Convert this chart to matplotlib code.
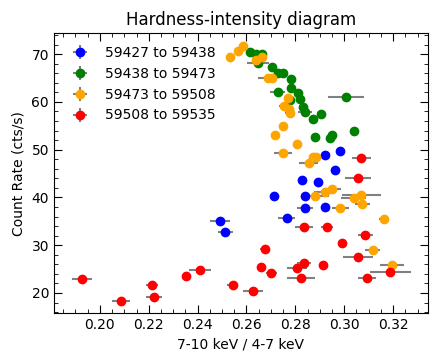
import matplotlib
matplotlib.use('Agg')
import matplotlib.pyplot as plt
from matplotlib.ticker import MultipleLocator

# MJD ranges for each group
labels = ['59427 to 59438', '59438 to 59473', '59473 to 59508', '59508 to 59535']
colors = ['blue', 'green', 'orange', 'red']

# hardness ratio (7-10 keV / 4-7 keV), count rate and x errors
blue_hr = [0.2493, 0.2514, 0.2921, 0.2984, 0.2964, 0.2829, 0.2892, 0.2712,
           0.2841, 0.2840, 0.2921, 0.2764]
blue_rate = [35.0, 32.7, 48.8, 49.8, 45.8, 43.6, 43.2, 40.3, 40.3, 37.7, 38.1, 35.8]
blue_err = [0.0041, 0.0029, 0.0012, 0.0012, 0.0012, 0.0012, 0.0012, 0.0012,
            0.0012, 0.0034, 0.0012, 0.0034]

green_hr = [0.2615, 0.2638, 0.2663, 0.2649, 0.2706, 0.2731, 0.2749, 0.2781,
            0.2783, 0.2727, 0.2810, 0.2817, 0.2779, 0.2830, 0.2839, 0.2871,
            0.2904, 0.2881, 0.2940, 0.2950, 0.3040, 0.3007]
green_rate = [70.4, 70.1, 70.1, 68.1, 67.4, 66.0, 66.0, 64.7,
              63.0, 62.0, 61.8, 60.7, 60.4, 58.9, 57.9, 56.4,
              57.4, 52.7, 52.5, 53.1, 53.9, 61.1]
green_err = [0.0015, 0.0015, 0.0015, 0.0045, 0.0015, 0.0015, 0.0015, 0.0015,
             0.0015, 0.0030, 0.0015, 0.0015, 0.0015, 0.0015, 0.0030, 0.0015,
             0.0015, 0.0015, 0.0015, 0.0015, 0.0015, 0.0073]

orange_hr = [0.2533, 0.2567, 0.2585, 0.2639, 0.2663, 0.2686, 0.2704, 0.2768,
             0.2754, 0.2776, 0.2779, 0.2751, 0.2717, 0.2806, 0.2751, 0.2871,
             0.2885, 0.2854, 0.2881, 0.2922, 0.2952, 0.3038, 0.3070, 0.3074,
             0.2984, 0.3161, 0.3116, 0.3195]
orange_rate = [69.4, 70.7, 71.7, 68.8, 69.3, 65.1, 65.0, 60.9,
               59.1, 58.6, 57.6, 55.0, 53.1, 51.1, 49.4, 48.4,
               48.4, 47.3, 40.3, 41.2, 41.8, 39.9, 40.6, 38.6,
               37.7, 35.5, 28.9, 25.9]
orange_err = [0.0012, 0.0012, 0.0012, 0.0015, 0.0015, 0.0037, 0.0015, 0.0015,
              0.0020, 0.0015, 0.0020, 0.0012, 0.0012, 0.0012, 0.0037, 0.0015,
              0.0015, 0.0039, 0.0055, 0.0045, 0.0033, 0.0053, 0.0080, 0.0030,
              0.0034, 0.0020, 0.0030, 0.0050]

red_hr = [0.1926, 0.2086, 0.2214, 0.2220, 0.2352, 0.2410, 0.2544, 0.2627,
          0.2675, 0.2661, 0.2702, 0.2836, 0.2930, 0.2835, 0.2807, 0.2824,
          0.2914, 0.2992, 0.3087, 0.3057, 0.3093, 0.3189, 0.3070, 0.3056]
red_rate = [22.9, 18.4, 21.7, 19.1, 23.6, 24.8, 21.7, 20.4,
            29.2, 25.5, 24.1, 33.8, 33.8, 26.3, 25.2, 23.1,
            25.8, 30.4, 32.1, 27.5, 23.2, 24.3, 48.3, 44.1]
red_err = [0.0041, 0.0036, 0.0025, 0.0033, 0.0016, 0.0046, 0.0023, 0.0040,
           0.0020, 0.0012, 0.0023, 0.0038, 0.0026, 0.0029, 0.0041, 0.0057,
           0.0012, 0.0012, 0.0030, 0.0060, 0.0037, 0.0083, 0.0039, 0.0053]

groups = [(blue_hr, blue_rate, blue_err),
          (green_hr, green_rate, green_err),
          (orange_hr, orange_rate, orange_err),
          (red_hr, red_rate, red_err)]

fig, ax = plt.subplots(figsize=(4.35, 3.64), dpi=100)
fig.subplots_adjust(left=0.124, right=0.984, bottom=0.140, top=0.909)

for (hr, rate, err), c, lab in zip(groups, colors, labels):
    ax.errorbar(hr, rate, xerr=err, yerr=0.4, fmt='o', color=c, ms=6,
                ecolor='gray', elinewidth=1.5, capsize=0, label=lab)

ax.set_xlim(0.1812, 0.3343)
ax.set_ylim(15.8, 74.4)
ax.xaxis.set_major_locator(MultipleLocator(0.02))
ax.xaxis.set_minor_locator(MultipleLocator(0.005))
ax.yaxis.set_major_locator(MultipleLocator(10))
ax.yaxis.set_minor_locator(MultipleLocator(2))
ax.tick_params(which='both', direction='in', top=True, right=True, labelsize=10)
ax.tick_params(which='major', length=6)
ax.tick_params(which='minor', length=3)

ax.set_xlabel('7-10 keV / 4-7 keV', fontsize=10)
ax.set_ylabel('Count Rate (cts/s)', fontsize=10)
ax.set_title('Hardness-intensity diagram', fontsize=12)
ax.legend(loc='upper left', frameon=False, fontsize=10)

plt.savefig('out.png', dpi=100)
